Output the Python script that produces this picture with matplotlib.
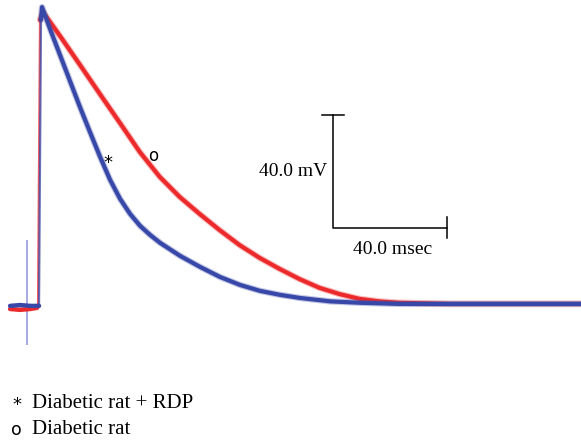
import matplotlib.pyplot as plt

# membrane potential traces (time in msec, potential in mV)
t_diabetic = [-10.5, -7.0, -3.5, -1.05, -0.7, 0.0, 1.0, 7.0, 14.0, 21.0, 28.0, 35.0,
              42.0, 49.0, 56.0, 63.0, 70.0, 77.0, 84.0, 91.0, 98.0, 105.0, 112.0,
              119.0, 126.0, 144.0, 161.0, 190.0]
v_diabetic = [-81.8, -82.1, -81.8, -81.4, -80.7, 20.4, 23.2, 14.7, 4.5, -5.8, -16.0, -26.3,
              -35.1, -42.2, -48.2, -53.9, -59.2, -63.7, -67.6, -71.2, -74.3, -76.5, -78.2,
              -79.1, -79.6, -80.0, -80.0, -80.0]

t_rdp = [-10.5, -7.0, -3.5, -0.35, 0.35, 0.7, 3.5, 7.0, 10.5, 14.0, 17.5, 21.1, 24.6,
         28.1, 31.6, 35.1, 38.6, 42.1, 49.1, 56.1, 63.2, 70.2, 77.2, 84.2, 91.2,
         101.8, 112.3, 126.3, 190.0]
v_rdp = [-80.7, -80.4, -80.7, -80.7, 20.4, 24.9, 17.2, 8.0, -1.2, -10.4, -19.2, -28.1, -36.2,
         -42.9, -48.2, -52.4, -55.6, -58.4, -63.0, -66.9, -70.5, -73.3, -75.4, -76.8, -77.9,
         -79.1, -79.6, -80.0, -80.0]

# stimulus artifact
stim_t = -4.56
stim_v = (-94.5, -57.4)

# scale bars
bar_t0 = 102.8
bar_v0 = -53.1
bar_mv = 40.0
bar_ms = 40.0

red = '#ec2a2c'
blue = '#3848a8'

fig = plt.figure(figsize=(5.81, 4.42), dpi=100)
ax = fig.add_axes([0, 0, 1, 1])
ax.set_xlim(-14.04, 189.8)
ax.set_ylim(-128.8, 27.4)
ax.axis('off')

ax.vlines(stim_t, stim_v[0], stim_v[1], color='#7a82d4', linewidth=1.2, alpha=0.8)

# resting, upstroke (thin) and repolarisation (thick) parts of each trace
for t, v, c, up, z in [(t_diabetic, v_diabetic, red, 4, 2), (t_rdp, v_rdp, blue, 3, 3)]:
    ax.plot(t[:up + 1], v[:up + 1], color=c, linewidth=3.2, solid_capstyle='round', zorder=z)
    ax.plot(t[up:up + 2], v[up:up + 2], color=c, linewidth=1.6, alpha=0.75, zorder=z)
    seg_t, seg_v = t[up + 1:], v[up + 1:]
    ax.plot(seg_t, seg_v, color=c, linewidth=4.6, alpha=0.3, solid_capstyle='round',
            solid_joinstyle='round', zorder=z)
    ax.plot(seg_t, seg_v, color=c, linewidth=3.0, solid_capstyle='round',
            solid_joinstyle='round', zorder=z)

serif = 'Liberation Serif'

ax.plot([bar_t0, bar_t0, bar_t0 + bar_ms], [bar_v0 + bar_mv, bar_v0, bar_v0],
        color='black', linewidth=1.1)
ax.plot([bar_t0 - 4, bar_t0 + 4], [bar_v0 + bar_mv] * 2, color='black', linewidth=1.1)
ax.plot([bar_t0 + bar_ms] * 2, [bar_v0 - 3.7, bar_v0 + 3.7], color='black', linewidth=1.1)
ax.text(bar_t0 - 2.0, bar_v0 + bar_mv / 2, '40.0 mV', ha='right', va='center',
        fontsize=14, family=serif)
ax.text(bar_t0 + bar_ms / 2 + 0.8, bar_v0 - 7.6, '40.0 msec', ha='center', va='center',
        fontsize=14, family=serif)

ax.text(23.9, -30.3, '*', ha='center', va='center', fontsize=13)
ax.text(39.6, -27.7, 'o', ha='center', va='center', fontsize=12)

fig.text(12 / 581, 1 - 405 / 442, '*', ha='left', va='center', fontsize=13)
fig.text(32 / 581, 1 - 403 / 442, 'Diabetic rat + RDP', ha='left', va='center',
         fontsize=15, family=serif)
fig.text(11 / 581, 1 - 430 / 442, 'o', ha='left', va='center', fontsize=12.5)
fig.text(32 / 581, 1 - 430 / 442, 'Diabetic rat', ha='left', va='center',
         fontsize=15, family=serif)

fig.savefig('out.png', dpi=100, facecolor='white')
